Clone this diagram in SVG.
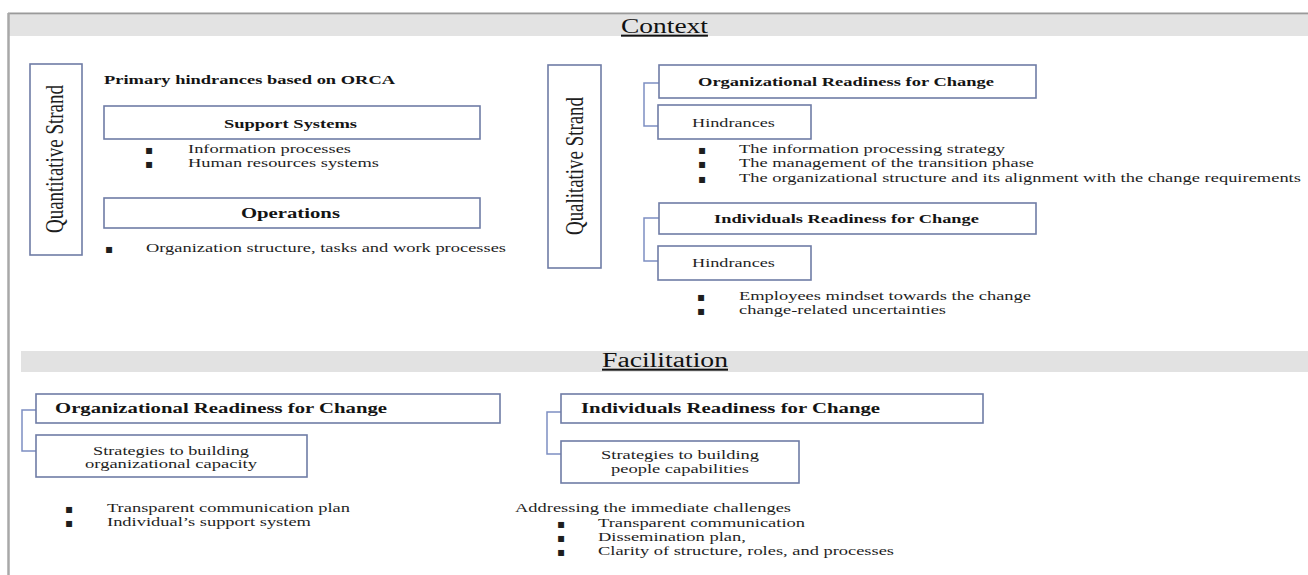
<svg xmlns="http://www.w3.org/2000/svg" width="1308" height="575" viewBox="0 0 1308 575">
<style>
text{font-family:"Liberation Serif","Times New Roman",serif;fill:#1e1e1e;}
.b{font-weight:bold;fill:#141414;}
.box{fill:#fff;stroke:#6f7ca6;stroke-width:1.6;}
.strand{fill:#fff;stroke:#6f7ca6;stroke-width:1.6;}
.con{fill:none;stroke:#7d8fc2;stroke-width:1.5;}
.bul{font-family:"DejaVu Sans",sans-serif;font-size:12px;fill:#1e1e1e;}
.t{font-size:13px;}
.h{font-size:20px;text-decoration:underline;fill:#111;}
</style>
<rect width="1308" height="575" fill="#fff"/>
<g id="frame">
<rect x="9" y="15" width="1299" height="21" fill="#e3e3e3"/>
<line x1="8" y1="13.5" x2="1308" y2="13.5" stroke="#9a9a9a" stroke-width="2"/>
<line x1="8.5" y1="13" x2="8.5" y2="575" stroke="#a8a8a8" stroke-width="2.5"/>
<rect x="21" y="351" width="1287" height="21" fill="#e2e2e2"/>
</g>
<g id="context-title"><text class="h" transform="translate(621,33) scale(1.38,1)" textLength="63" lengthAdjust="spacingAndGlyphs">Context</text></g>
<g id="facilitation-title"><text class="h" transform="translate(602,367) scale(1.38,1)" textLength="91.3" lengthAdjust="spacingAndGlyphs">Facilitation</text></g>

<g id="connectors">
<path class="con" d="M659,83 H644 V126 H658"/>
<path class="con" d="M659,218 H644 V261 H658"/>
<path class="con" d="M37,410 H22 V451 H36"/>
<path class="con" d="M561,412 H547 V454 H561"/>
</g>

<g id="quantitative-strand">
<rect class="strand" x="30" y="64" width="52" height="191"/>
<text transform="translate(63,159) rotate(-90) scale(1,1.38)" text-anchor="middle" font-size="19" textLength="148" lengthAdjust="spacingAndGlyphs">Quantitative Strand</text>
</g>
<g id="primary-hindrances"><text class="b t" transform="translate(104,84) scale(1.38,1)" textLength="210.9" lengthAdjust="spacingAndGlyphs">Primary hindrances based on ORCA</text></g>
<g id="support-systems">
<rect class="box" x="104" y="106" width="376" height="33"/>
<text class="b t" transform="translate(224,128) scale(1.38,1)" textLength="96.4" lengthAdjust="spacingAndGlyphs">Support Systems</text>
</g>
<g id="support-list">
<text class="bul" x="145" y="154">▪</text>
<text class="t" transform="translate(188,153) scale(1.38,1)" textLength="118.1" lengthAdjust="spacingAndGlyphs">Information processes</text>
<text class="bul" x="145" y="168">▪</text>
<text class="t" transform="translate(188,167) scale(1.38,1)" textLength="138.4" lengthAdjust="spacingAndGlyphs">Human resources systems</text>
</g>
<g id="operations">
<rect class="box" x="104" y="198" width="376" height="30"/>
<text class="b" font-size="14.5" transform="translate(241,218) scale(1.38,1)" textLength="71.7" lengthAdjust="spacingAndGlyphs">Operations</text>
</g>
<g id="operations-list">
<text class="bul" x="105" y="253">▪</text>
<text class="t" transform="translate(146,252) scale(1.38,1)" textLength="260.9" lengthAdjust="spacingAndGlyphs">Organization structure, tasks and work processes</text>
</g>

<g id="qualitative-strand">
<rect class="strand" x="548" y="65" width="53" height="203"/>
<text transform="translate(583,166) rotate(-90) scale(1,1.38)" text-anchor="middle" font-size="19" textLength="138" lengthAdjust="spacingAndGlyphs">Qualitative Strand</text>
</g>
<g id="ctx-org-readiness">
<rect class="box" x="659" y="65" width="377" height="33"/>
<text class="b t" transform="translate(698,86) scale(1.38,1)" textLength="214.5" lengthAdjust="spacingAndGlyphs">Organizational Readiness for Change</text>
</g>
<g id="ctx-org-hindrances">
<rect class="box" x="658" y="105" width="153" height="34"/>
<text class="t" transform="translate(692,127) scale(1.38,1)" textLength="60.1" lengthAdjust="spacingAndGlyphs">Hindrances</text>
</g>
<g id="ctx-org-list">
<text class="bul" x="698" y="154">▪</text>
<text class="t" transform="translate(739,153) scale(1.38,1)" textLength="192.8" lengthAdjust="spacingAndGlyphs">The information processing strategy</text>
<text class="bul" x="698" y="168">▪</text>
<text class="t" transform="translate(739,167) scale(1.38,1)" textLength="213.8" lengthAdjust="spacingAndGlyphs">The management of the transition phase</text>
<text class="bul" x="698" y="183">▪</text>
<text class="t" transform="translate(739,182) scale(1.38,1)" textLength="407.2" lengthAdjust="spacingAndGlyphs">The organizational structure and its alignment with the change requirements</text>
</g>
<g id="ctx-ind-readiness">
<rect class="box" x="659" y="203" width="377" height="31"/>
<text class="b t" transform="translate(714,223) scale(1.38,1)" textLength="192" lengthAdjust="spacingAndGlyphs">Individuals Readiness for Change</text>
</g>
<g id="ctx-ind-hindrances">
<rect class="box" x="658" y="246" width="153" height="34"/>
<text class="t" transform="translate(692,267) scale(1.38,1)" textLength="60.1" lengthAdjust="spacingAndGlyphs">Hindrances</text>
</g>
<g id="ctx-ind-list">
<text class="bul" x="697" y="301">▪</text>
<text class="t" transform="translate(739,300) scale(1.38,1)" textLength="211.6" lengthAdjust="spacingAndGlyphs">Employees mindset towards the change</text>
<text class="bul" x="697" y="315">▪</text>
<text class="t" transform="translate(739,314) scale(1.38,1)" textLength="150" lengthAdjust="spacingAndGlyphs">change-related uncertainties</text>
</g>

<g id="fac-org-readiness">
<rect class="box" x="36" y="394" width="464" height="29"/>
<text class="b" font-size="15" transform="translate(55,413) scale(1.38,1)" textLength="240.6" lengthAdjust="spacingAndGlyphs">Organizational Readiness for Change</text>
</g>
<g id="fac-org-strategies">
<rect class="box" x="36" y="435" width="271" height="42"/>
<text class="t" font-size="12.5" transform="translate(171,455) scale(1.38,1)" text-anchor="middle" textLength="113" lengthAdjust="spacingAndGlyphs">Strategies to building</text>
<text class="t" font-size="12.5" transform="translate(171,468) scale(1.38,1)" text-anchor="middle" textLength="124.6" lengthAdjust="spacingAndGlyphs">organizational capacity</text>
</g>
<g id="fac-org-list">
<text class="bul" x="65" y="513">▪</text>
<text class="t" transform="translate(107,512) scale(1.38,1)" textLength="176.1" lengthAdjust="spacingAndGlyphs">Transparent communication plan</text>
<text class="bul" x="65" y="527">▪</text>
<text class="t" transform="translate(107,526) scale(1.38,1)" textLength="147.8" lengthAdjust="spacingAndGlyphs">Individual’s support system</text>
</g>
<g id="fac-ind-readiness">
<rect class="box" x="561" y="394" width="422" height="29"/>
<text class="b" font-size="15" transform="translate(581,413) scale(1.38,1)" textLength="216.7" lengthAdjust="spacingAndGlyphs">Individuals Readiness for Change</text>
</g>
<g id="fac-ind-strategies">
<rect class="box" x="561" y="441" width="238" height="42"/>
<text class="t" font-size="12.5" transform="translate(680,459) scale(1.38,1)" text-anchor="middle" textLength="114.5" lengthAdjust="spacingAndGlyphs">Strategies to building</text>
<text class="t" font-size="12.5" transform="translate(680,473) scale(1.38,1)" text-anchor="middle" textLength="100" lengthAdjust="spacingAndGlyphs">people capabilities</text>
</g>
<g id="fac-ind-list">
<text class="t" transform="translate(515,512) scale(1.38,1)" textLength="200" lengthAdjust="spacingAndGlyphs">Addressing the immediate challenges</text>
<text class="bul" x="557" y="528">▪</text>
<text class="t" transform="translate(598,527) scale(1.38,1)" textLength="150" lengthAdjust="spacingAndGlyphs">Transparent communication</text>
<text class="bul" x="557" y="542">▪</text>
<text class="t" transform="translate(598,541) scale(1.38,1)" textLength="107.2" lengthAdjust="spacingAndGlyphs">Dissemination plan,</text>
<text class="bul" x="557" y="556">▪</text>
<text class="t" transform="translate(598,555) scale(1.38,1)" textLength="214.5" lengthAdjust="spacingAndGlyphs">Clarity of structure, roles, and processes</text>
</g>
</svg>
